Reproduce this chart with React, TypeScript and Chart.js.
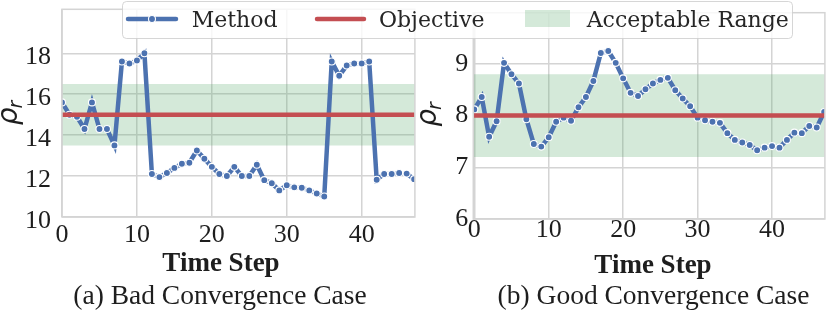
import React, { useEffect, useRef } from 'react';
import { Chart, registerables } from 'chart.js';

Chart.register(...registerables);

// ---------------- data ----------------
const BAD_VALUES = [
  15.6, 15.0, 14.9, 14.3, 15.6, 14.3, 14.3, 13.5,
  17.6, 17.5, 17.65, 18.0,
  12.1, 11.95, 12.15, 12.4, 12.6, 12.65, 13.25, 12.85, 12.45, 12.1, 12.0, 12.45,
  12.0, 12.0, 12.55, 11.8, 11.65, 11.3, 11.55, 11.45, 11.43, 11.3, 11.15, 11.0,
  17.6, 16.9, 17.4, 17.5, 17.5, 17.6,
  11.82, 12.1, 12.1, 12.15, 12.12, 11.85,
];
const GOOD_VALUES = [
  8.12, 8.36, 7.59, 7.89, 9.02, 8.8, 8.62, 7.93, 7.45, 7.4,
  7.58, 7.88, 7.96, 7.9, 8.16, 8.36, 8.67, 9.21, 9.25, 9.02,
  8.72, 8.44, 8.38, 8.51, 8.62, 8.69, 8.73, 8.49, 8.33, 8.18,
  7.96, 7.91, 7.88, 7.86, 7.66, 7.53, 7.48, 7.43, 7.33, 7.38,
  7.41, 7.38, 7.53, 7.67, 7.66, 7.8, 7.77, 8.07,
];
const BAD_OBJECTIVE = 15;
const GOOD_OBJECTIVE = 8;
const BAD_RANGE = [13.5, 16.5];
const GOOD_RANGE = [7.2, 8.8];
const X_TICKS = [0, 10, 20, 30, 40];
const BAD_Y_TICKS = [10, 12, 14, 16, 18];
const GOOD_Y_TICKS = [6, 7, 8, 9];
const BAD_Y_LIMITS = [10, 20.15];
const GOOD_Y_LIMITS = [6, 9.99];
const BAD_X_LIMITS = [0, 47.1];
const GOOD_X_LIMITS = [-0.13, 47.1];
const LEGEND_LABELS = ['Method', 'Objective', 'Acceptable Range'];
const CAPTIONS = ['(a) Bad Convergence Case', '(b) Good Convergence Case'];
const X_TITLE = 'Time Step';
const Y_SYMBOL = 'ρ';
const Y_SUBSCRIPT = 'r';

// ---------------- styles ----------------
const BLUE = '#4c72b0';
const RED = '#c44e52';
const GREEN_FILL = 'rgba(85,168,104,0.25)';
const GRID = '#d4d4d4';
const TEXT = '#1e1e1e';
const SERIF = '"Liberation Serif", "Times New Roman", serif';

const decorPlugin = {
  id: 'decor',
  afterDatasetsDraw(chart: any) {
    const { ctx, chartArea } = chart;
    ctx.save();
    ctx.strokeStyle = GRID;
    ctx.lineWidth = 1.5;
    ctx.strokeRect(chartArea.left, chartArea.top, chartArea.right - chartArea.left, chartArea.bottom - chartArea.top);
    ctx.restore();
  },
  afterDraw(chart: any, _args: any, o: any) {
    const { ctx } = chart;
    ctx.save();
    ctx.fillStyle = TEXT;
    ctx.textAlign = 'center';
    ctx.textBaseline = 'alphabetic';
    ctx.font = `bold 27px ${SERIF}`;
    ctx.fillText(o.xTitle, o.xTitleX, o.xTitleY);
    ctx.font = `27.5px ${SERIF}`;
    ctx.fillText(o.caption, o.captionX, o.captionY);
    // y label: rotated rho with subscript r
    ctx.translate(o.yLabelX, o.yLabelY);
    ctx.rotate(-Math.PI / 2);
    const main = 'italic 28px "DejaVu Sans"';
    const sub = 'italic 19px "DejaVu Sans"';
    ctx.font = main;
    const w1 = ctx.measureText(o.ySymbol).width;
    ctx.font = sub;
    const w2 = ctx.measureText(o.ySub).width;
    const start = -(w1 + w2) / 2;
    ctx.textAlign = 'left';
    ctx.font = main;
    ctx.fillText(o.ySymbol, start, 0);
    ctx.font = sub;
    ctx.fillText(o.ySub, start + w1 - 1, 5);
    ctx.restore();
  },
};

type PanelProps = {
  values: number[];
  objective: number;
  range: number[];
  yTicks: number[];
  yLimits: number[];
  xLimits: number[];
  caption: string;
  left: number;
  width: number;
  lay: any;
};

function Panel({ values, objective, range, yTicks, yLimits, xLimits, caption, left, width, lay }: PanelProps) {
  const ref = useRef<HTMLCanvasElement>(null);
  useEffect(() => {
    const chart = new Chart(ref.current as HTMLCanvasElement, {
      type: 'line',
      data: {
        datasets: [
          {
            label: LEGEND_LABELS[1],
            data: [{ x: xLimits[0], y: objective }, { x: xLimits[1], y: objective }],
            borderColor: RED,
            borderWidth: 4.5,
            pointRadius: 0,
            order: 0,
            clip: 0,
          },
          {
            label: LEGEND_LABELS[0],
            data: values.map((v, i) => ({ x: i, y: v })),
            borderColor: BLUE,
            borderWidth: 4.5,
            pointRadius: 3.5,
            pointBackgroundColor: BLUE,
            pointBorderColor: '#ffffff',
            pointBorderWidth: 1.1,
            tension: 0,
            order: 1,
            clip: 0,
          },
          {
            label: LEGEND_LABELS[2],
            data: [{ x: xLimits[0], y: range[1] }, { x: xLimits[1], y: range[1] }],
            borderColor: 'transparent',
            borderWidth: 0,
            pointRadius: 0,
            backgroundColor: GREEN_FILL,
            fill: { value: range[0] },
            order: 2,
            clip: 0,
          },
        ],
      } as any,
      options: {
        responsive: false,
        animation: false,
        events: [],
        layout: { padding: lay.padding },
        plugins: {
          legend: { display: false },
          tooltip: { enabled: false },
          decor: {
            xTitle: X_TITLE,
            xTitleX: lay.xTitleX,
            xTitleY: lay.xTitleY,
            caption,
            captionX: lay.captionX,
            captionY: lay.captionY,
            yLabelX: lay.yLabelX,
            yLabelY: lay.yLabelY,
            ySymbol: Y_SYMBOL,
            ySub: Y_SUBSCRIPT,
          },
        } as any,
        scales: {
          x: {
            type: 'linear',
            min: xLimits[0],
            max: xLimits[1],
            afterFit: (s: any) => {
              s.height = lay.xAxisHeight;
              s.paddingLeft = 0; s.paddingRight = 0; s.paddingTop = 0; s.paddingBottom = 0;
            },
            afterBuildTicks: (s: any) => { s.ticks = X_TICKS.map((v) => ({ value: v })); },
            grid: { color: GRID, lineWidth: 1.5, drawTicks: false },
            border: { display: false },
            ticks: {
              font: { family: SERIF, size: 26, lineHeight: 1 },
              color: TEXT,
              padding: lay.xTickPad,
              maxRotation: 0,
              autoSkip: false,
              callback: (v: any) => String(v),
            },
          },
          y: {
            type: 'linear',
            min: yLimits[0],
            max: yLimits[1],
            afterFit: (s: any) => {
              s.width = lay.yAxisWidth;
              s.paddingLeft = 0; s.paddingRight = 0; s.paddingTop = 0; s.paddingBottom = 0;
            },
            afterBuildTicks: (s: any) => { s.ticks = yTicks.map((v) => ({ value: v })); },
            grid: { color: GRID, lineWidth: 1.5, drawTicks: false },
            border: { display: false },
            ticks: {
              font: { family: SERIF, size: 26, lineHeight: 1 },
              color: TEXT,
              padding: lay.yTickPad,
              labelOffset: lay.yLabelOffset,
              autoSkip: false,
              callback: (v: any) => String(v),
            },
          },
        } as any,
      },
      plugins: [decorPlugin as any],
    });
    return () => chart.destroy();
  }, []);
  return (
    <canvas
      ref={ref}
      width={width}
      height={312}
      style={{ position: 'absolute', left, top: 0, width, height: 312 }}
    />
  );
}

function Legend() {
  const font = { fontFamily: '"DejaVu Serif", serif', fontSize: 22, fill: '#262626' };
  return (
    <svg width={830} height={45} style={{ position: 'absolute', left: 0, top: 0 }}>
      <rect x={122.5} y={1.5} width={670} height={37} rx={4} ry={4}
        fill="rgba(255,255,255,0.8)" stroke="rgba(204,204,204,0.8)" strokeWidth={1} />
      <line x1={128} x2={176} y1={19} y2={19} stroke={BLUE} strokeWidth={4.5} strokeLinecap="round" />
      <circle cx={152} cy={19} r={3.5} fill={BLUE} stroke="#ffffff" strokeWidth={1.1} />
      <text x={191.7} y={26.7} {...font}>{LEGEND_LABELS[0]}</text>
      <line x1={317} x2={364} y1={19} y2={19} stroke={RED} strokeWidth={4.5} strokeLinecap="round" />
      <text x={379} y={26.7} {...font}>{LEGEND_LABELS[1]}</text>
      <rect x={525} y={10} width={45} height={17} fill={GREEN_FILL} />
      <text x={586.7} y={26.7} {...font}>{LEGEND_LABELS[2]}</text>
    </svg>
  );
}

export default function App() {
  const layA = {
    padding: { left: 0, right: 4, top: 9.3, bottom: 0 },
    yAxisWidth: 62,
    xAxisHeight: 95,
    xTickPad: 5.3,
    yTickPad: 11,
    yLabelOffset: 4,
    xTitleX: 221,
    xTitleY: 271,
    captionX: 220,
    captionY: 304,
    yLabelX: 17,
    yLabelY: 112.5,
  };
  const layB = {
    padding: { left: 0, right: 1.7, top: 12.7, bottom: 0 },
    yAxisWidth: 53.3,
    xAxisHeight: 93,
    xTickPad: -1.7,
    yTickPad: 5,
    yLabelOffset: 0,
    xTitleX: 233,
    xTitleY: 273,
    captionX: 233.5,
    captionY: 304,
    yLabelX: 16,
    yLabelY: 114,
  };
  return (
    <div style={{ position: 'absolute', left: 0, top: 0, width: 830, height: 312, background: '#ffffff' }}>
      <Panel values={BAD_VALUES} objective={BAD_OBJECTIVE} range={BAD_RANGE} yTicks={BAD_Y_TICKS}
        yLimits={BAD_Y_LIMITS} xLimits={BAD_X_LIMITS} caption={CAPTIONS[0]} left={0} width={420} lay={layA} />
      <Panel values={GOOD_VALUES} objective={GOOD_OBJECTIVE} range={GOOD_RANGE} yTicks={GOOD_Y_TICKS}
        yLimits={GOOD_Y_LIMITS} xLimits={GOOD_X_LIMITS} caption={CAPTIONS[1]} left={420} width={410} lay={layB} />
      <Legend />
    </div>
  );
}
